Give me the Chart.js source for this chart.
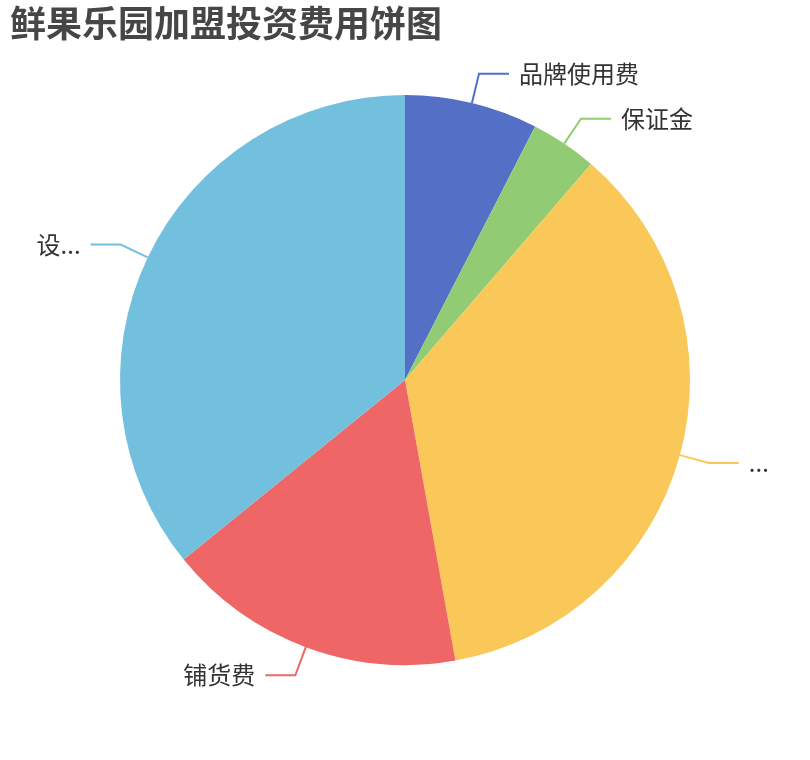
<!DOCTYPE html>
<html>
<head>
<meta charset="utf-8">
<script src="https://cdn.jsdelivr.net/npm/chart.js@4/dist/chart.umd.min.js"></script>
<style>
  html, body { margin: 0; padding: 0; background: #fff; }
  #wrap { width: 810px; height: 760px; position: relative; }
</style>
</head>
<body>
<div id="wrap"><canvas id="c" width="810" height="760"></canvas></div>
<script>
const chartTitle = '鲜果乐园加盟投资费用饼图';
const categories = ['品牌使用费', '保证金', '...', '铺货费', '设...'];
const values = [4, 2, 19, 9, 19];
const colors = ['#5470c6', '#91cc75', '#fac858', '#ee6666', '#73c0de'];

const FONT = '"Noto Sans CJK SC", "Noto Sans", sans-serif';

const titlePlugin = {
  id: 'titleText',
  afterDraw(chart) {
    const ctx = chart.ctx;
    ctx.save();
    ctx.font = 'bold 36px ' + FONT;
    ctx.fillStyle = '#464646';
    ctx.textAlign = 'left';
    ctx.textBaseline = 'top';
    ctx.fillText(chartTitle, 10, 5);
    ctx.restore();
  }
};

const labelPlugin = {
  id: 'pieLabels',
  afterDatasetsDraw(chart) {
    const ctx = chart.ctx;
    const meta = chart.getDatasetMeta(0);
    ctx.save();
    meta.data.forEach((arc, i) => {
      const p = arc.getProps(['x', 'y', 'startAngle', 'endAngle', 'outerRadius'], true);
      const mid = (p.startAngle + p.endAngle) / 2;
      const cos = Math.cos(mid), sin = Math.sin(mid);
      const x0 = p.x + p.outerRadius * cos, y0 = p.y + p.outerRadius * sin;
      const x1 = p.x + (p.outerRadius + 30) * cos, y1 = p.y + (p.outerRadius + 30) * sin;
      const dir = cos >= 0 ? 1 : -1;
      const x2 = x1 + dir * 30, y2 = y1;
      ctx.beginPath();
      ctx.moveTo(x0, y0);
      ctx.lineTo(x1, y1);
      ctx.lineTo(x2, y2);
      ctx.strokeStyle = colors[i];
      ctx.lineWidth = 2;
      ctx.stroke();
      ctx.font = '24px ' + FONT;
      ctx.fillStyle = '#333';
      ctx.textAlign = dir > 0 ? 'left' : 'right';
      ctx.textBaseline = 'middle';
      ctx.fillText(categories[i], x2 + dir * 10, y2);
    });
    ctx.restore();
  }
};

new Chart(document.getElementById('c'), {
  type: 'pie',
  data: {
    labels: categories,
    datasets: [{
      data: values,
      backgroundColor: colors,
      borderWidth: 0,
      hoverOffset: 0
    }]
  },
  options: {
    responsive: false,
    animation: false,
    devicePixelRatio: 1,
    layout: { padding: { top: 95, bottom: 95, left: 120, right: 120 } },
    plugins: {
      legend: { display: false },
      tooltip: { enabled: false },
      title: { display: false }
    }
  },
  plugins: [titlePlugin, labelPlugin]
});
</script>
</body>
</html>
